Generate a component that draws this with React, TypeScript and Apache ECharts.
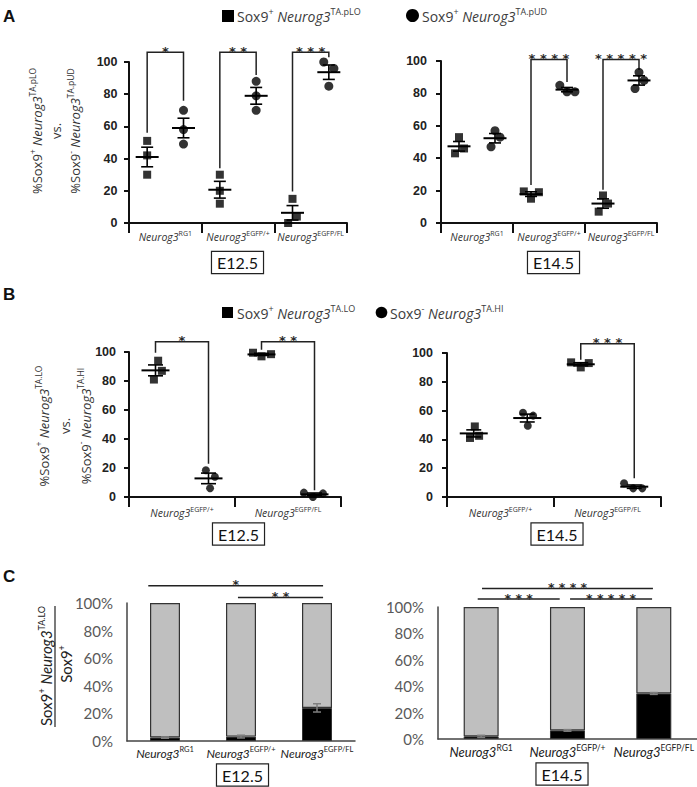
import React, { useEffect, useRef } from "react";
import * as echarts from "echarts";

const SANS = "'Liberation Sans', Arial, sans-serif";
const OPEN = "'Open Sans', sans-serif";
const LATO = "Lato, 'Open Sans', sans-serif";
const STAR = "'DejaVu Sans', sans-serif";

// ---------------- Panel A ----------------
const aCategories = ["RG1", "EGFP/+", "EGFP/FL"];
const aE12pLO = [[51, 42, 30], [30, 20, 12], [15, 4, 0]];
const aE12pUD = [[70, 58, 49], [88, 79, 70], [100, 96, 85]];
const aE12pLOJitter = [[0, 0, 0], [0, 0, 0], [0, 0.12, -0.12]];
const aE12pUDJitter = [[0, 0, 0], [0, 0, 0], [-0.14, 0.14, 0]];
const aE14pLO = [[53, 46, 43], [19.5, 19, 15], [17, 7, 12]];
const aE14pUD = [[57, 53, 47], [85, 81, 81], [93, 88, 83]];
const aE14pLOJitter = [[0, 0.14, -0.11], [-0.2, 0.22, 0], [0, -0.12, 0.14]];
const aE14pUDJitter = [[0, 0.14, -0.11], [-0.2, 0, 0.22], [0, 0.14, -0.11]];
// [fromSlot, toSlot, top, leftEnd, rightEnd]
const aE12Brackets = [[0.5, 1.5, 106, 56, 76], [2.5, 3.5, 106, 34, 92], [4.5, 5.5, 106, 19.5, 103]];
const aE12Stars = ["*", "**", "***"];
const aE14Brackets = [[2.5, 3.5, 101, 23.5, 87], [4.5, 5.5, 101, 20.5, 94.5]];
const aE14Stars = ["****", "*****"];

// ---------------- Panel B ----------------
const bCategories = ["EGFP/+", "EGFP/FL"];
const bE12LO = [[94, 87, 81], [99.5, 97, 98.5]];
const bE12HI = [[18.5, 14, 6], [3, 0, 2.5]];
const bE12LOJitter = [[0.05, 0.12, -0.03], [-0.16, 0, 0.18]];
const bE12HIJitter = [[-0.05, 0.12, 0.03], [-0.2, -0.03, 0.16]];
const bE14LO = [[49, 41, 42.5], [93.5, 90, 93]];
const bE14HI = [[58.5, 56.5, 49.5], [9.5, 6, 6]];
const bE14LOJitter = [[0.02, -0.07, 0.1], [-0.18, 0, 0.15]];
const bE14HIJitter = [[-0.08, 0.11, 0.01], [-0.19, -0.02, 0.15]];
const bE12Brackets = [[0.5, 1.5, 107, 99.5, 23], [2.5, 3.5, 107, 101.5, 4.6]];
const bE12Stars = ["*", "**"];
const bE14Brackets = [[2.5, 3.5, 106.5, 95.3, 13]];
const bE14Stars = ["***"];

// ---------------- Panel C ----------------
const cCategories = ["RG1", "EGFP/+", "EGFP/FL"];
const cE12Black = [2.5, 3.2, 24];
const cE12Err = [0.5, 1, 3];
const cE14Black = [2, 6.5, 34.5];
const cE14Err = [0.8, 0.6, 0.7];
// [fromX, toX, level]
const cE12Sig = [[0.28, 2.58, 112.5], [1.46, 2.58, 104]];
const cE12Stars = ["*", "**"];
const cE14Sig = [[0.51, 2.49, 114], [0.46, 1.41, 106], [1.53, 2.48, 106]];
const cE14Stars = ["****", "***", "*****"];

const yTicks = [0, 20, 40, 60, 80, 100];

function meanSem(v: number[]): [number, number] {
  const n = v.length;
  const m = v.reduce((a, b) => a + b, 0) / n;
  const sd = Math.sqrt(v.reduce((a, b) => a + (b - m) * (b - m), 0) / (n - 1));
  return [m, sd / Math.sqrt(n)];
}

const spaced = (s: string) => s.split("").join(" ");

function errRender(half: number, cap: number, color: string, lw: number, meanLw: number) {
  return (_p: any, api: any) => {
    const x = api.value(0), m = api.value(1), s = api.value(2);
    const c = api.coord([x, m]);
    const t = api.coord([x, m + s]);
    const b = api.coord([x, m - s]);
    const st = { stroke: color, lineWidth: lw, fill: "none" };
    const children: any[] = [
      { type: "line", shape: { x1: c[0], y1: t[1], x2: c[0], y2: b[1] }, style: st },
      { type: "line", shape: { x1: c[0] - cap, y1: t[1], x2: c[0] + cap, y2: t[1] }, style: st },
      { type: "line", shape: { x1: c[0] - cap, y1: b[1], x2: c[0] + cap, y2: b[1] }, style: st },
    ];
    if (half > 0) {
      children.push({ type: "line", shape: { x1: c[0] - half, y1: c[1], x2: c[0] + half, y2: c[1] }, style: { ...st, lineWidth: meanLw } });
    }
    return { type: "group", children };
  };
}

function bracketRender(labels: string[]) {
  return (p: any, api: any) => {
    const x1 = api.value(0), x2 = api.value(1), yt = api.value(2), yl = api.value(3), yr = api.value(4);
    const pL = api.coord([x1, yl]), pTL = api.coord([x1, yt]), pTR = api.coord([x2, yt]), pR = api.coord([x2, yr]);
    return {
      type: "group",
      children: [
        { type: "polyline", shape: { points: [pL, pTL, pTR, pR] }, style: { stroke: "#222", lineWidth: 1.5, fill: "none" } },
        {
          type: "text", x: (pTL[0] + pTR[0]) / 2, y: pTL[1] - 1,
          style: { text: spaced(labels[p.dataIndex]), align: "center", verticalAlign: "middle", fontFamily: STAR, fontWeight: "bold", fontSize: 13, fill: "#2a2a2a" },
        },
      ],
    };
  };
}

function sigRender(labels: string[]) {
  return (p: any, api: any) => {
    const x1 = api.value(0), x2 = api.value(1), y = api.value(2);
    const a = api.coord([x1, y]), b = api.coord([x2, y]);
    return {
      type: "group",
      children: [
        { type: "line", shape: { x1: a[0], y1: a[1], x2: b[0], y2: b[1] }, style: { stroke: "#222", lineWidth: 1.5 } },
        {
          type: "text", x: (a[0] + b[0]) / 2, y: a[1] - 1,
          style: { text: spaced(labels[p.dataIndex]), align: "center", verticalAlign: "middle", fontFamily: STAR, fontWeight: "bold", fontSize: 12.5, fill: "#2a2a2a" },
        },
      ],
    };
  };
}

const grids = [
  { left: 129, top: 62, width: 218, height: 161 },
  { left: 441, top: 61, width: 216, height: 162 },
  { left: 129, top: 352, width: 212, height: 145 },
  { left: 447, top: 353, width: 214, height: 144 },
  { left: 127, top: 603, width: 228, height: 138 },
  { left: 438, top: 607, width: 259, height: 132 },
];

function buildOption() {
  const xAxis: any[] = [];
  const yAxis: any[] = [];
  const series: any[] = [];

  const scatterAxes = (gi: number, cats: string[], yOffset: number, labelMargin: number) => {
    xAxis.push({
      type: "category", gridIndex: gi, data: cats, boundaryGap: true,
      axisLine: { lineStyle: { color: "#111", width: 2 } },
      axisTick: { show: true, length: 10, lineStyle: { color: "#111", width: 2 } },
      axisLabel: {
        margin: labelMargin, interval: 0,
        formatter: (v: string) => `{i|Neurog3}{s|${v}}`,
        rich: {
          i: { fontFamily: OPEN, fontStyle: "italic", fontSize: 10.5, color: "#333", lineHeight: 14 },
          s: { fontFamily: OPEN, fontSize: 7, color: "#333", lineHeight: 8, verticalAlign: "top" },
        },
      },
      splitLine: { show: false },
    });
    xAxis.push({ type: "value", gridIndex: gi, min: 0, max: cats.length * 2, show: false, splitLine: { show: false } });
    yAxis.push({
      type: "value", gridIndex: gi, min: yTicks[0], max: yTicks[yTicks.length - 1], interval: yTicks[1] - yTicks[0],
      offset: yOffset,
      axisLine: { show: true, lineStyle: { color: "#111", width: 2 } },
      axisTick: { show: true, length: 5, lineStyle: { color: "#111", width: 2 } },
      axisLabel: { fontFamily: SANS, fontWeight: "bold", fontSize: 12.5, color: "#222", margin: 7 },
      splitLine: { show: false },
    });
  };

  const scatterSeries = (gi: number, lo: number[][], loJ: number[][], hi: number[][], hiJ: number[][],
    brackets: number[][], stars: string[], half: number, cap: number, sq: number, ci: number) => {
    const xi = 2 * gi + 1;
    const loPts = lo.flatMap((g, gidx) => g.map((v, k) => [2 * gidx + 0.5 + loJ[gidx][k], v]));
    const hiPts = hi.flatMap((g, gidx) => g.map((v, k) => [2 * gidx + 1.5 + hiJ[gidx][k], v]));
    const loStats = lo.map((g, gidx) => [2 * gidx + 0.5, ...meanSem(g)]);
    const hiStats = hi.map((g, gidx) => [2 * gidx + 1.5, ...meanSem(g)]);
    const ink = { color: "#000" };
    series.push({ type: "scatter", xAxisIndex: xi, yAxisIndex: gi, data: loPts, symbol: "rect", symbolSize: sq, itemStyle: ink, silent: true });
    series.push({ type: "scatter", xAxisIndex: xi, yAxisIndex: gi, data: hiPts, symbol: "circle", symbolSize: ci, itemStyle: ink, silent: true });
    series.push({ type: "custom", xAxisIndex: xi, yAxisIndex: gi, data: loStats, encode: { x: 0, y: 1 }, renderItem: errRender(half, cap, "#000", 1.6, 2), itemStyle: ink, silent: true });
    series.push({ type: "custom", xAxisIndex: xi, yAxisIndex: gi, data: hiStats, encode: { x: 0, y: 1 }, renderItem: errRender(half, cap, "#000", 1.6, 2), itemStyle: ink, silent: true });
    series.push({ type: "custom", xAxisIndex: xi, yAxisIndex: gi, data: brackets, encode: { x: [0, 1], y: [2, 3, 4] }, renderItem: bracketRender(stars), itemStyle: { color: "#333" }, silent: true });
  };

  const barAxes = (gi: number, labelMargin: number, fs: number, ss: number) => {
    xAxis.push({
      type: "category", gridIndex: gi, data: cCategories, boundaryGap: true,
      axisLine: { lineStyle: { color: "#444", width: 1.5 } },
      axisTick: { show: false },
      axisLabel: {
        margin: labelMargin, interval: 0,
        formatter: (v: string) => `{i|Neurog3}{s|${v}}`,
        rich: {
          i: { fontFamily: LATO, fontStyle: "italic", fontSize: fs, color: "#222", lineHeight: 17 },
          s: { fontFamily: LATO, fontSize: ss, color: "#222", lineHeight: 9, verticalAlign: "top" },
        },
      },
    });
    xAxis.push({ type: "value", gridIndex: gi, min: 0, max: cCategories.length, show: false, splitLine: { show: false } });
    yAxis.push({
      type: "value", gridIndex: gi, min: yTicks[0], max: yTicks[yTicks.length - 1], interval: yTicks[1] - yTicks[0],
      axisLine: { show: true, lineStyle: { color: "#444", width: 1.5 } },
      axisTick: { show: false },
      axisLabel: { formatter: "{value}%", fontFamily: LATO, fontSize: 15, color: "#595959", margin: 14 },
      splitLine: { show: false },
    });
  };

  const barSeries = (gi: number, black: number[], err: number[], sig: number[][], stars: string[], bw: number) => {
    const ci = 2 * gi;
    series.push({
      type: "bar", stack: "c" + gi, xAxisIndex: ci, yAxisIndex: gi, data: black, barWidth: bw,
      itemStyle: { color: "#000", borderColor: "#333", borderWidth: 1 }, silent: true,
    });
    series.push({
      type: "bar", stack: "c" + gi, xAxisIndex: ci, yAxisIndex: gi, data: black.map((v) => 100 - v), barWidth: bw,
      itemStyle: { color: "#bfbfbf", borderColor: "#333", borderWidth: 1.2 }, silent: true,
    });
    series.push({
      type: "custom", xAxisIndex: ci + 1, yAxisIndex: gi, data: black.map((v, i) => [i + 0.5, v, err[i]]),
      encode: { x: 0, y: 1 }, renderItem: errRender(0, 4, "#7f7f7f", 1.5, 1.5), itemStyle: { color: "#7f7f7f" }, silent: true, z: 5,
    });
    series.push({
      type: "custom", xAxisIndex: ci + 1, yAxisIndex: gi, data: sig, encode: { x: [0, 1], y: 2 },
      renderItem: sigRender(stars), itemStyle: { color: "#333" }, silent: true,
    });
  };

  scatterAxes(0, aCategories, 4.5, 7);
  scatterAxes(1, aCategories, 7, 7);
  scatterAxes(2, bCategories, 6, 9);
  scatterAxes(3, bCategories, 7, 9);
  barAxes(4, 4, 12, 7.5);
  barAxes(5, 4, 13, 8.5);

  scatterSeries(0, aE12pLO, aE12pLOJitter, aE12pUD, aE12pUDJitter, aE12Brackets, aE12Stars, 11.5, 6, 8, 9);
  scatterSeries(1, aE14pLO, aE14pLOJitter, aE14pUD, aE14pUDJitter, aE14Brackets, aE14Stars, 11.5, 6, 8, 9);
  scatterSeries(2, bE12LO, bE12LOJitter, bE12HI, bE12HIJitter, bE12Brackets, bE12Stars, 14, 7.5, 8, 8);
  scatterSeries(3, bE14LO, bE14LOJitter, bE14HI, bE14HIJitter, bE14Brackets, bE14Stars, 14, 7.5, 8, 8);
  barSeries(4, cE12Black, cE12Err, cE12Sig, cE12Stars, 30);
  barSeries(5, cE14Black, cE14Err, cE14Sig, cE14Stars, 35);

  const legendRich = {
    n: { fontFamily: OPEN, fontSize: 14, fill: "#3c3c3c", lineHeight: 18 },
    i: { fontFamily: OPEN, fontSize: 14, fontStyle: "italic", fill: "#3c3c3c", lineHeight: 18 },
    s: { fontFamily: OPEN, fontSize: 9, fill: "#3c3c3c", lineHeight: 10, verticalAlign: "top" },
  };
  const titleRich = (lh: number) => ({
    n: { fontFamily: OPEN, fontSize: 13, fill: "#333", lineHeight: lh },
    i: { fontFamily: OPEN, fontSize: 13, fontStyle: "italic", fill: "#333", lineHeight: lh },
    s: { fontFamily: OPEN, fontSize: 8.5, fill: "#333", lineHeight: lh - 8, verticalAlign: "top" },
  });
  const cRich = {
    n: { fontFamily: LATO, fontSize: 15, fill: "#222", lineHeight: 18 },
    i: { fontFamily: LATO, fontSize: 15, fontStyle: "italic", fill: "#222", lineHeight: 18 },
    s: { fontFamily: LATO, fontSize: 9, fill: "#222", lineHeight: 9, verticalAlign: "top" },
  };
  const legendText = (x: number, y: number, text: string) => ({
    type: "text", x, y, style: { text, rich: legendRich, fontFamily: OPEN, fontSize: 14, fill: "#3c3c3c", align: "left", verticalAlign: "middle" },
  });
  const letter = (t: string, y: number) => ({
    type: "text", x: 3, y, style: { text: t, fontFamily: SANS, fontWeight: "bold", fontSize: 17, fill: "#111", align: "left", verticalAlign: "top" },
  });
  const ebox = (t: string, x: number, y: number) => ({
    type: "text", x, y,
    style: {
      text: t, fontFamily: LATO, fontSize: 16, fill: "#111", align: "center", verticalAlign: "middle",
      padding: [3, 5, 2, 5], borderColor: "#222", borderWidth: 1.2, backgroundColor: "#fff",
    },
  });

  const graphic: any[] = [
    letter("A", 8),
    letter("B", 286),
    letter("C", 568),
    { type: "rect", shape: { x: 222, y: 10, width: 12, height: 12 }, style: { fill: "#000" } },
    legendText(237, 16, "{n|Sox9}{s|+} {i|Neurog3}{s|TA.pLO}"),
    { type: "circle", shape: { cx: 412.5, cy: 15.5, r: 6.5 }, style: { fill: "#000" } },
    legendText(422, 16, "{n|Sox9}{s|+} {i|Neurog3}{s|TA.pUD}"),
    { type: "rect", shape: { x: 222, y: 307, width: 11, height: 11 }, style: { fill: "#000" } },
    legendText(237, 313, "{n|Sox9}{s|+} {i|Neurog3}{s|TA.LO}"),
    { type: "circle", shape: { cx: 381.5, cy: 312.5, r: 5.8 }, style: { fill: "#000" } },
    legendText(390, 313, "{n|Sox9}{s|-} {i|Neurog3}{s|TA.HI}"),
    {
      type: "text", x: 56, y: 131, rotation: Math.PI / 2,
      style: {
        text: "{n|%Sox9}{s|+} {i|Neurog3}{s|TA.pLO}\n{n|vs.}\n{n|%Sox9}{s|-} {i|Neurog3}{s|TA.pUD}",
        rich: titleRich(19), align: "center", verticalAlign: "middle", fontFamily: OPEN, fontSize: 13, fill: "#333",
      },
    },
    {
      type: "text", x: 65, y: 426, rotation: Math.PI / 2,
      style: {
        text: "{n|%Sox9}{s|+} {i|Neurog3}{s|TA.LO}\n{n|vs.}\n{n|%Sox9}{s|-} {i|Neurog3}{s|TA.HI}",
        rich: titleRich(21), align: "center", verticalAlign: "middle", fontFamily: OPEN, fontSize: 13, fill: "#333",
      },
    },
    {
      type: "text", x: 46, y: 666, rotation: Math.PI / 2,
      style: { text: "{n|Sox9}{s|+} {i|Neurog3}{s|TA.LO}", rich: cRich, align: "center", verticalAlign: "middle", fontFamily: LATO, fontSize: 15, fill: "#222" },
    },
    { type: "line", shape: { x1: 55, y1: 606, x2: 55, y2: 727 }, style: { stroke: "#222", lineWidth: 1.2 } },
    {
      type: "text", x: 66, y: 664, rotation: Math.PI / 2,
      style: { text: "{n|Sox9}{s|+}", rich: cRich, align: "center", verticalAlign: "middle", fontFamily: LATO, fontSize: 15, fill: "#222" },
    },
    ebox("E12.5", 237.5, 262.5),
    ebox("E14.5", 553.5, 262.5),
    ebox("E12.5", 238.5, 534),
    ebox("E14.5", 557, 534),
    ebox("E12.5", 242.5, 775),
    ebox("E14.5", 562, 774),
  ];

  return {
    animation: false,
    backgroundColor: "#fff",
    grid: grids.map((g) => ({ ...g, containLabel: false })),
    xAxis,
    yAxis,
    series,
    graphic,
  };
}

export default function App() {
  const ref = useRef<HTMLDivElement>(null);
  useEffect(() => {
    if (!ref.current) return;
    const chart = echarts.init(ref.current, null, { renderer: "svg" });
    chart.setOption(buildOption() as any);
    return () => chart.dispose();
  }, []);
  return <div ref={ref} style={{ position: "absolute", left: 0, top: 0, width: 697, height: 787, background: "#fff" }} />;
}
